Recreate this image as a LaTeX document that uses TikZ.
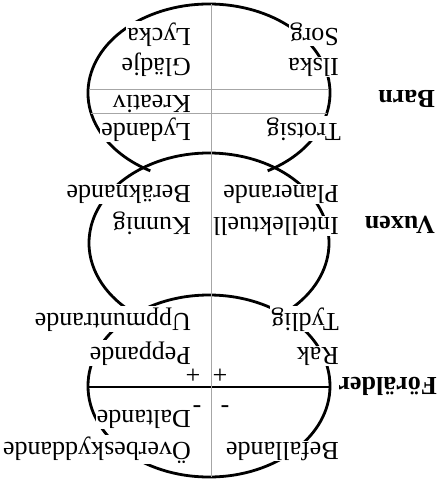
\documentclass[tikz,border=0pt]{standalone}
\usepackage{fontspec}
\setmainfont{Liberation Serif}
\usepackage{tikz}

\begin{document}
\begin{tikzpicture}[
    x=1pt, y=1pt, rotate=180, transform shape,
    oval/.style={line width=2.8pt},
    guide/.style={draw=gray!70, line width=0.9pt},
    word/.style={anchor=base west, fill=white, inner sep=1pt,
                 font=\fontsize{26}{30}\selectfont},
    level/.style={anchor=base west, inner sep=0pt,
                  font=\fontsize{26}{30}\selectfont\bfseries},
    sign/.style={inner sep=0pt, font=\fontsize{26}{30}\selectfont}
]
\useasboundingbox (0,0) rectangle (440,482);

% the three ego states
\draw[oval] (231,386) ellipse[x radius=121pt, y radius=91pt];
\draw[oval] (231,243) ++(124:120pt and 90pt)
    arc[start angle=124, end angle=416, x radius=120pt, y radius=90pt];
\draw[oval] (231,93) ++(119:121pt and 89pt)
    arc[start angle=119, end angle=421, x radius=121pt, y radius=89pt];
\draw[oval] (110,387) -- (352,387);
\draw[guide] (229,4) -- (229,477);

% Barn
\node[word] (trotsig) at (98,123) {Trotsig};
\node[word] (ilska) at (100,58) {Ilska};
\node[word] (sorg) at (100,28) {Sorg};
\node[word] (lydande) at (248,123) {Lydande};
\node[word] (kreativ) at (248,95) {Kreativ};
\node[word] (gladje) at (248,58) {Glädje};
\node[word] (lycka) at (248,28) {Lycka};

% Vuxen
\node[word] (planerande) at (100,185) {Planerande};
\node[word] (intellektuell) at (100,217) {Intellektuell};
\node[word] (beraknande) at (248,185) {Beräknande};
\node[word] (kunnig) at (248,217) {Kunnig};

% Förälder
\node[word] (tydlig) at (100,313) {Tydlig};
\node[word] (rak) at (100,347) {Rak};
\node[word] (befallande) at (100,442) {Befallande};
\node[word] (uppmuntrande) at (248,313) {Uppmuntrande};
\node[word] (peppande) at (248,347) {Peppande};
\node[word] (daltande) at (248,410) {Daltande};
\node[word] (overbeskyddande) at (248,442) {Överbeskyddande};

\node[sign] (plusL) at (220,374) {+};
\node[sign] (plusR) at (247,374) {+};
\node[sign] (minusL) at (215,404) {-};
\node[sign] (minusR) at (243,404) {-};

\draw[guide] (111,89) -- (351,89);
\draw[guide] (113,113) -- (349,113);

\node[level] (barn) at (5,90) {Barn};
\node[level] (vuxen) at (5,216) {Vuxen};
\node[level] (foralder) at (3,377) {Förälder};
\end{tikzpicture}
\end{document}
